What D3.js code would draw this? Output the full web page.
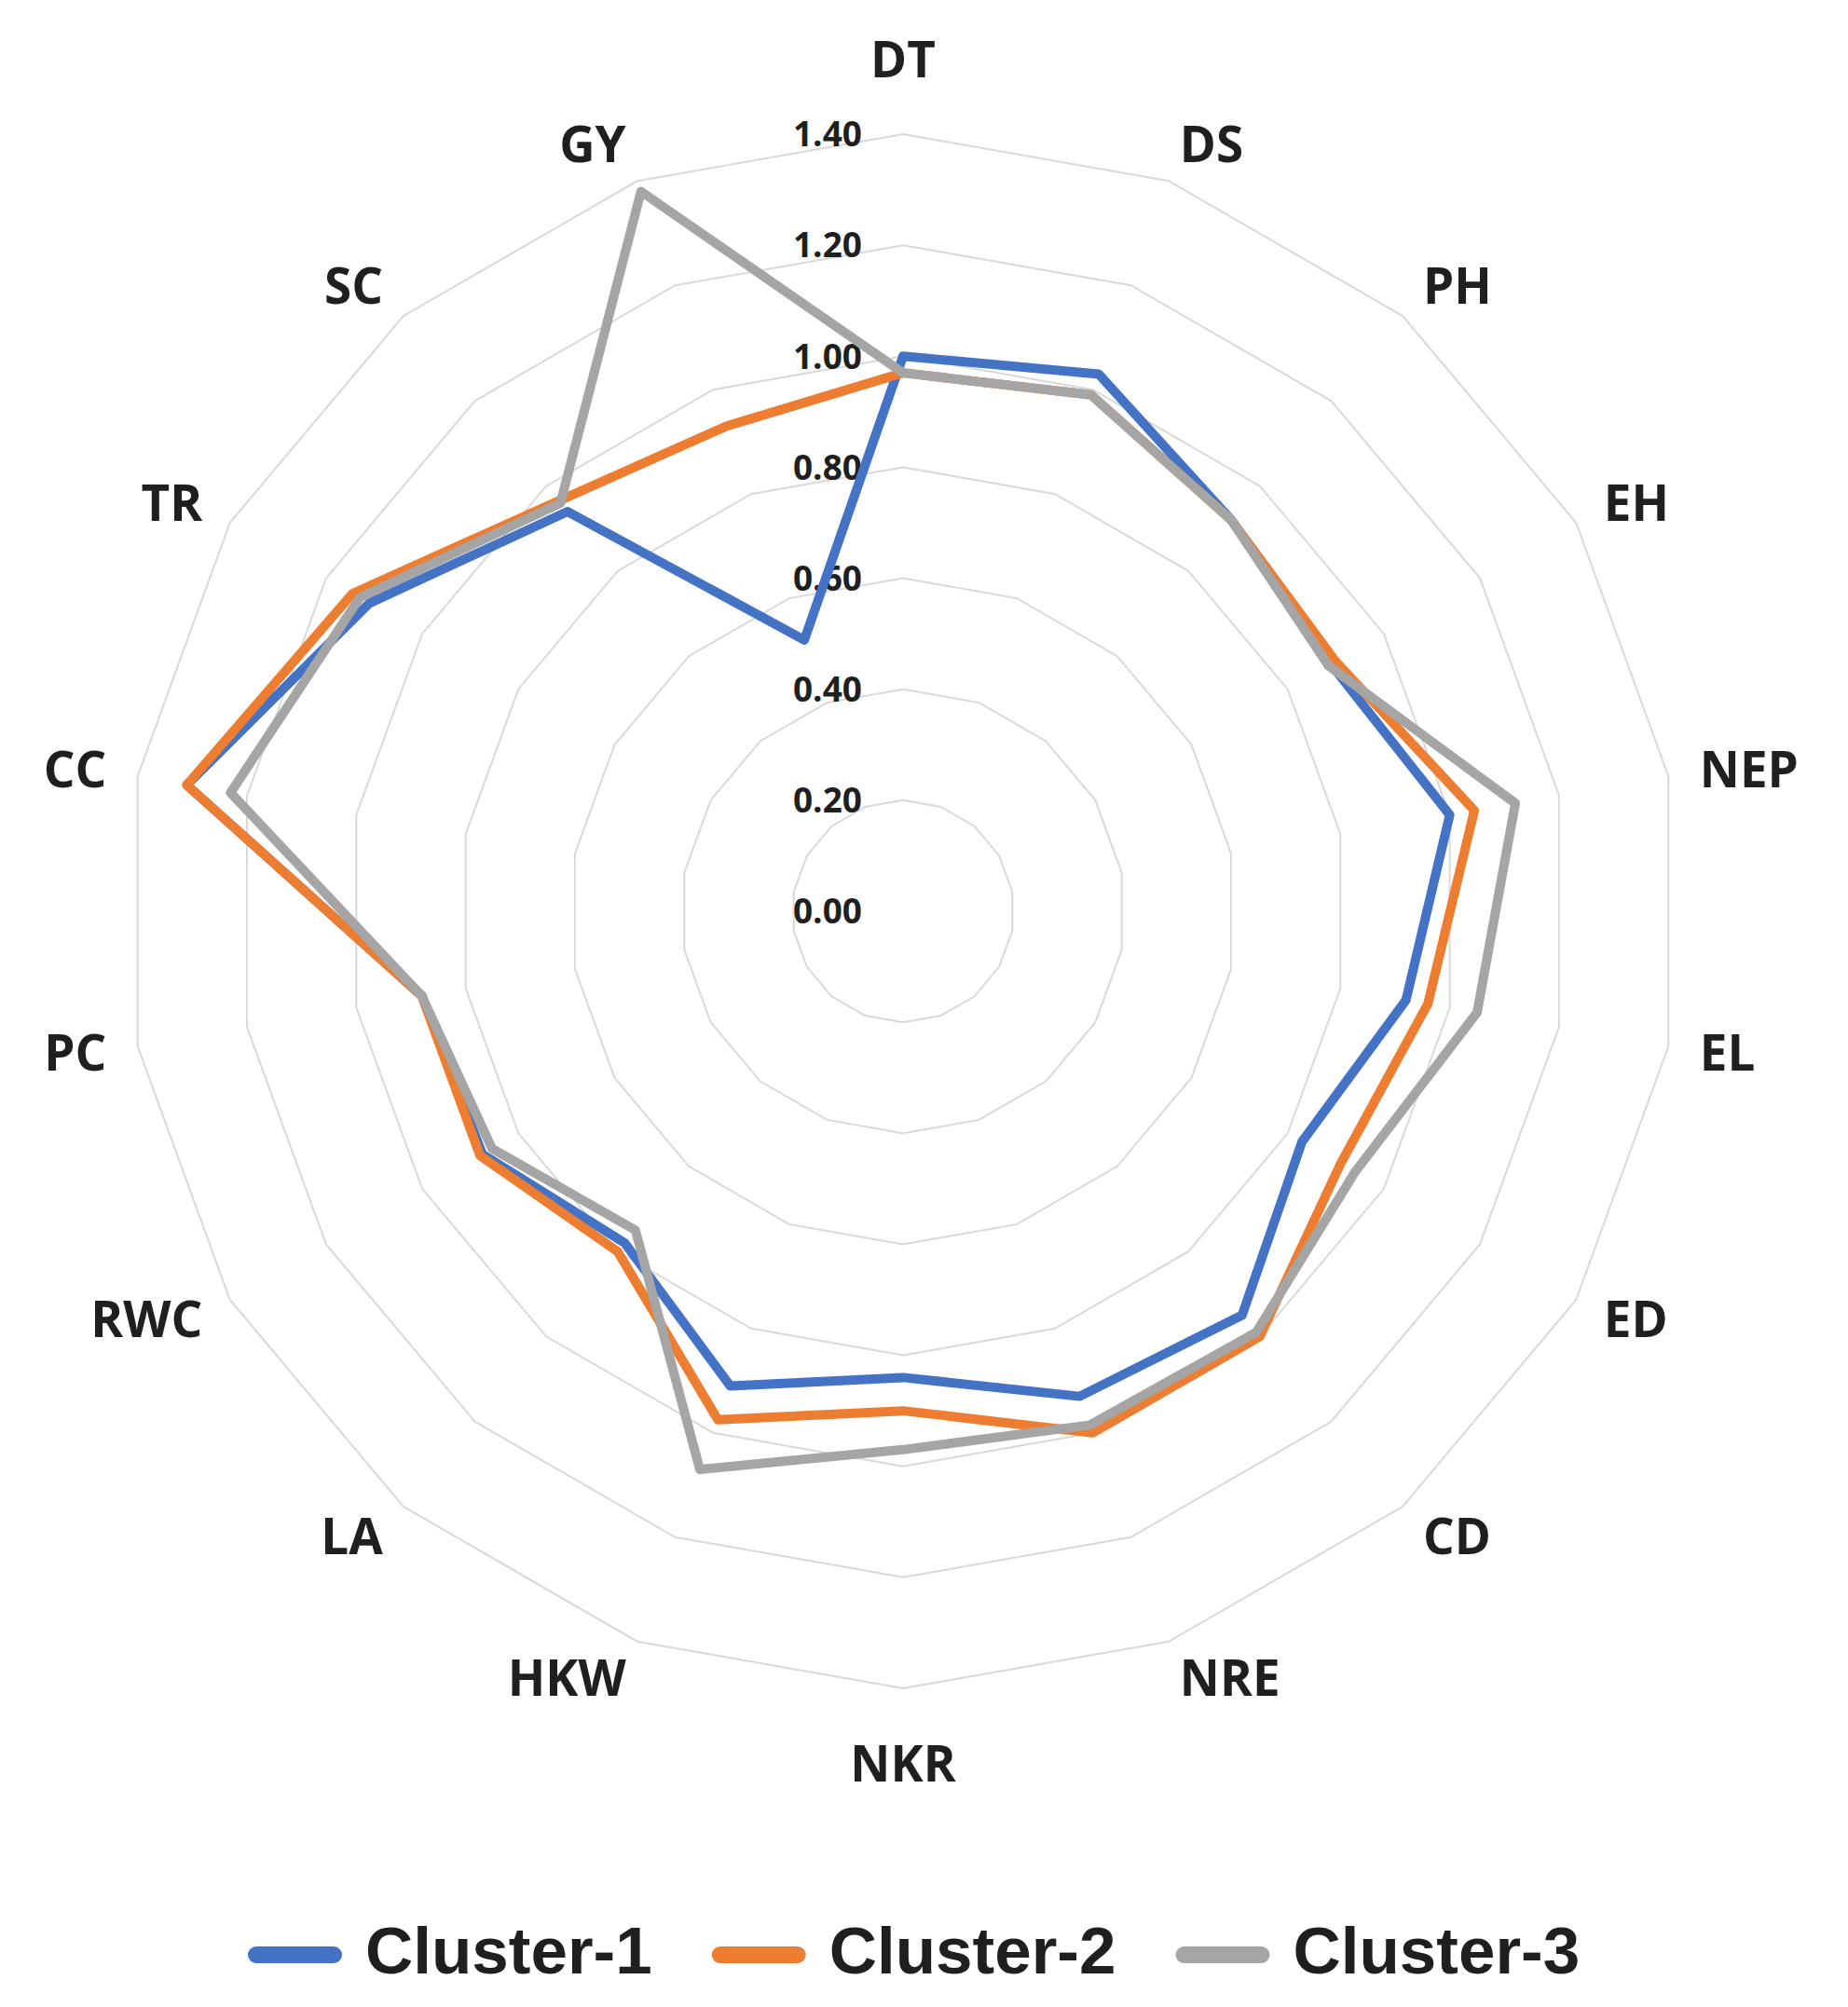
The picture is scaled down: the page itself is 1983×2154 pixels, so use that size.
<!DOCTYPE html>
<html>
<head>
<meta charset="utf-8">
<script src="https://cdn.jsdelivr.net/npm/d3@7"></script>
<style>
  html, body { margin: 0; padding: 0; background: #ffffff; }
  svg { display: block; }
</style>
</head>
<body>
<script>
// ---- data ----
const categories = ["DT","DS","PH","EH","NEP","EL","ED","CD","NRE","NKR","HKW","LA","RWC","PC","CC","TR","SC","GY"];
const seriesNames = ["Cluster-1","Cluster-2","Cluster-3"];
const cluster1 = [1.00,1.03,0.92,0.89,1.00,0.92,0.83,0.95,0.93,0.84,0.91,0.78,0.875,0.88,1.31,1.11,0.94,0.52];
const cluster2 = [0.97,0.99,0.92,0.90,1.045,0.96,0.91,1.00,1.00,0.90,0.975,0.80,0.88,0.88,1.31,1.145,0.965,0.93];
const cluster3 = [0.97,0.99,0.92,0.885,1.12,1.05,0.94,0.99,0.985,0.97,1.07,0.75,0.855,0.88,1.23,1.13,0.96,1.38];
const tickValues = [0,0.2,0.4,0.6,0.8,1.0,1.2,1.4];
const colors = ["#4472C4","#ED7D31","#A5A5A5"];

const W = 1983, H = 2154;
const cx = 969, cy = 978;
const svg = d3.select("body").append("svg").attr("width", W).attr("height", H);
svg.append("rect").attr("width", W).attr("height", H).attr("fill", "#ffffff");

const r = d3.scaleLinear().domain([0, 1.4]).range([0, 834]);
const angle = d3.scaleLinear().domain([0, categories.length]).range([0, 2 * Math.PI]);

const g = svg.append("g").attr("transform", `translate(${cx},${cy})`);

const radial = d3.lineRadial()
  .angle((d, i) => angle(i))
  .radius(d => r(d))
  .curve(d3.curveLinearClosed);

// grid rings
g.selectAll("path.ring")
  .data(tickValues.filter(v => v > 0))
  .join("path")
  .attr("class", "ring")
  .attr("d", v => radial(categories.map(() => v)))
  .attr("fill", "none")
  .attr("stroke", "#d9d9d9")
  .attr("stroke-width", 2);

// tick labels
g.selectAll("text.tick")
  .data(tickValues)
  .join("text")
  .attr("class", "tick")
  .attr("x", -44)
  .attr("y", v => -r(v))
  .attr("dy", "0.36em")
  .attr("text-anchor", "end")
  .attr("font-family", "'Open Sans', sans-serif")
  .attr("font-weight", "bold")
  .attr("font-size", 37)
  .attr("fill", "#1f1f1f")
  .text(v => d3.format(".2f")(v));

// series
const seriesData = [cluster1, cluster2, cluster3];
g.selectAll("path.series")
  .data(seriesData)
  .join("path")
  .attr("class", "series")
  .attr("d", d => radial(d))
  .attr("fill", "none")
  .attr("stroke", (d, i) => colors[i])
  .attr("stroke-width", 10)
  .attr("stroke-linejoin", "round");

// category labels: placed just outside the plot, box pushed sideways by half its width
const r0 = 868;
const cats = g.selectAll("text.cat")
  .data(categories)
  .join("text")
  .attr("class", "cat")
  .attr("text-anchor", "middle")
  .attr("dy", "0.36em")
  .attr("font-family", "'Open Sans', sans-serif")
  .attr("font-weight", "bold")
  .attr("font-size", 53)
  .attr("fill", "#1f1f1f")
  .text(d => d);
cats.each(function(d, i) {
  const a = angle(i);
  const s = Math.sin(a), c = Math.cos(a);
  const bb = this.getBBox();
  let x, y;
  if (Math.abs(s) < 0.01) {
    x = 0;
    y = -(r0 + bb.height / 2 + 10) * Math.sign(c);
  } else {
    x = r0 * s + Math.sign(s) * bb.width / 2;
    y = -r0 * c - c * 8;
  }
  d3.select(this).attr("x", x).attr("y", y);
});

// legend
const legend = svg.append("g");
let lx = 266;
const ly = 2098;
seriesNames.forEach((name, i) => {
  legend.append("line")
    .attr("x1", lx + 9).attr("x2", lx + 92)
    .attr("y1", ly).attr("y2", ly)
    .attr("stroke", colors[i])
    .attr("stroke-width", 18)
    .attr("stroke-linecap", "round");
  const t = legend.append("text")
    .attr("x", lx + 126)
    .attr("y", ly + 20)
    .attr("font-family", "'Liberation Sans', Arial, sans-serif")
    .attr("font-weight", "bold")
    .attr("font-size", 71)
    .attr("fill", "#1f1f1f")
    .text(name);
  const w = t.node().getComputedTextLength();
  lx = lx + 126 + w + 64;
});
</script>
</body>
</html>
